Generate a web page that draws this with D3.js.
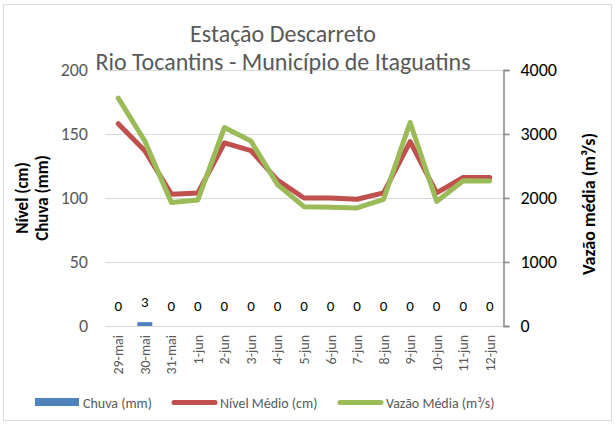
<!DOCTYPE html>
<html>
<head>
<meta charset="utf-8">
<script src="https://cdn.jsdelivr.net/npm/d3@7"></script>
<style>
  body { margin: 0; background: #fff; }
  text { font-family: Carlito, Lato, "Open Sans", sans-serif; }
</style>
</head>
<body>
<div id="chart"></div>
<script>
// data
var dias = ["29-mai", "30-mai", "31-mai", "1-jun", "2-jun", "3-jun", "4-jun", "5-jun",
            "6-jun", "7-jun", "8-jun", "9-jun", "10-jun", "11-jun", "12-jun"];
var chuva = [0, 3, 0, 0, 0, 0, 0, 0, 0, 0, 0, 0, 0, 0, 0];
var nivel = [158, 137, 103, 104, 143, 137, 114, 100, 100, 99, 104, 144, 104, 116, 116];
var vazao = [3560, 2890, 1930, 1970, 3100, 2890, 2210, 1865, 1855, 1845, 1980, 3180, 1945, 2270, 2265];
var ticksLeft = [0, 50, 100, 150, 200];
var ticksRight = [0, 1000, 2000, 3000, 4000];

const W = 616, H = 424;
const plot = {left: 105, right: 503, top: 70, bottom: 326};

var svg = d3.select("#chart").append("svg")
    .attr("width", W)
    .attr("height", H);

// rand van de grafiek
svg.append("rect")
    .attr("x", 3.5).attr("y", 4.5)
    .attr("width", 608).attr("height", 416)
    .attr("fill", "#fff")
    .attr("stroke", "#d9d9d9");

var x = d3.scaleBand()
    .domain(dias)
    .range([plot.left, plot.right]);

var yLeft = d3.scaleLinear()
    .domain([0, 200])
    .range([plot.bottom, plot.top]);

var yRight = d3.scaleLinear()
    .domain([0, 4000])
    .range([plot.bottom, plot.top]);

// gridlines
svg.append("g")
    .selectAll("line")
    .data(ticksLeft)
    .enter()
    .append("line")
    .attr("x1", plot.left)
    .attr("x2", plot.right)
    .attr("y1", function(d) { return Math.round(yLeft(d)) + 0.5; })
    .attr("y2", function(d) { return Math.round(yLeft(d)) + 0.5; })
    .attr("stroke", "#d9d9d9")
    .attr("stroke-width", 1.2);

// linker as, alleen labels
var leftAxis = svg.append("g")
    .attr("transform", "translate(" + plot.left + ",0)")
    .call(d3.axisLeft(yLeft).tickValues(ticksLeft).tickSize(0).tickPadding(17));
leftAxis.select(".domain").remove();
leftAxis.selectAll("text")
    .attr("fill", "#595959")
    .style("font-size", "18px");

// rechter as
var rightAxis = svg.append("g")
    .attr("transform", "translate(" + (plot.right + 0.5) + ",0)")
    .call(d3.axisRight(yRight).tickValues(ticksRight).tickFormat(d3.format("d"))
      .tickSize(6).tickSizeOuter(6).tickPadding(11));
rightAxis.select(".domain").attr("stroke", "#868686").attr("stroke-width", 1.5);
rightAxis.selectAll(".tick line").attr("stroke", "#868686").attr("stroke-width", 1.5);
rightAxis.selectAll("text")
    .attr("fill", "#000")
    .style("font-size", "18px");

// x-as labels, gedraaid
svg.append("g")
    .selectAll("text")
    .data(dias)
    .enter()
    .append("text")
    .attr("transform", function(d) {
      return "translate(" + (x(d) + x.bandwidth() / 2 + 5) + ",335) rotate(-90)";
    })
    .attr("text-anchor", "end")
    .attr("fill", "#595959")
    .style("font-size", "14px")
    .text(function(d) { return d; });

// chuva staven
svg.append("g")
    .selectAll("rect")
    .data(chuva)
    .enter()
    .append("rect")
    .attr("x", function(d, i) { return x(dias[i]) + x.bandwidth() / 2 - 7.5; })
    .attr("y", function(d) { return yLeft(d); })
    .attr("width", 15)
    .attr("height", function(d) { return yLeft(0) - yLeft(d); })
    .attr("fill", "#4f81bd");

// chuva labels
svg.append("g")
    .selectAll("text")
    .data(chuva)
    .enter()
    .append("text")
    .attr("x", function(d, i) { return x(dias[i]) + x.bandwidth() / 2; })
    .attr("y", function(d) { return yLeft(d) - 15; })
    .attr("text-anchor", "middle")
    .attr("fill", "#000")
    .style("font-size", "15px")
    .text(function(d) { return d; });

// lijnen
var lineNivel = d3.line()
    .x(function(d, i) { return x(dias[i]) + x.bandwidth() / 2; })
    .y(function(d) { return yLeft(d); });

var lineVazao = d3.line()
    .x(function(d, i) { return x(dias[i]) + x.bandwidth() / 2; })
    .y(function(d) { return yRight(d); });

svg.append("path")
    .attr("d", lineNivel(nivel))
    .attr("fill", "none")
    .attr("stroke", "#c0504d")
    .attr("stroke-width", 5)
    .attr("stroke-linejoin", "round")
    .attr("stroke-linecap", "round");

svg.append("path")
    .attr("d", lineVazao(vazao))
    .attr("fill", "none")
    .attr("stroke", "#9bbb59")
    .attr("stroke-width", 5)
    .attr("stroke-linejoin", "round")
    .attr("stroke-linecap", "round");

// titel
svg.append("text")
    .attr("x", 283).attr("y", 42)
    .attr("text-anchor", "middle")
    .attr("fill", "#595959")
    .style("font-size", "24px")
    .text("Estação Descarreto");

svg.append("text")
    .attr("x", 283).attr("y", 70)
    .attr("text-anchor", "middle")
    .attr("fill", "#595959")
    .style("font-size", "24px")
    .text("Rio Tocantins - Município de Itaguatins");

// as titels
svg.append("text")
    .attr("transform", "translate(28,198) rotate(-90)")
    .attr("text-anchor", "middle")
    .style("font-size", "17px")
    .style("font-weight", "bold")
    .text("Nível (cm)");

svg.append("text")
    .attr("transform", "translate(48,198) rotate(-90)")
    .attr("text-anchor", "middle")
    .style("font-size", "17px")
    .style("font-weight", "bold")
    .text("Chuva (mm)");

svg.append("text")
    .attr("transform", "translate(595,204) rotate(-90)")
    .attr("text-anchor", "middle")
    .style("font-size", "18px")
    .style("font-weight", "bold")
    .text("Vazão média (m³/s)");

// legenda
var legend = svg.append("g");

legend.append("rect")
    .attr("x", 35).attr("y", 398)
    .attr("width", 44).attr("height", 8)
    .attr("fill", "#4f81bd");

legend.append("line")
    .attr("x1", 174).attr("x2", 215)
    .attr("y1", 402.5).attr("y2", 402.5)
    .attr("stroke", "#c0504d")
    .attr("stroke-width", 5)
    .attr("stroke-linecap", "round");

legend.append("line")
    .attr("x1", 340).attr("x2", 381)
    .attr("y1", 402.5).attr("y2", 402.5)
    .attr("stroke", "#9bbb59")
    .attr("stroke-width", 5)
    .attr("stroke-linecap", "round");

var legendItems = [["Chuva (mm)", 83], ["Nível Médio (cm)", 220], ["Vazão Média (m³/s)", 386]];
legend.selectAll("text")
    .data(legendItems)
    .enter()
    .append("text")
    .attr("x", function(d) { return d[1]; })
    .attr("y", 408)
    .attr("fill", "#595959")
    .style("font-size", "14px")
    .text(function(d) { return d[0]; });
</script>
</body>
</html>
